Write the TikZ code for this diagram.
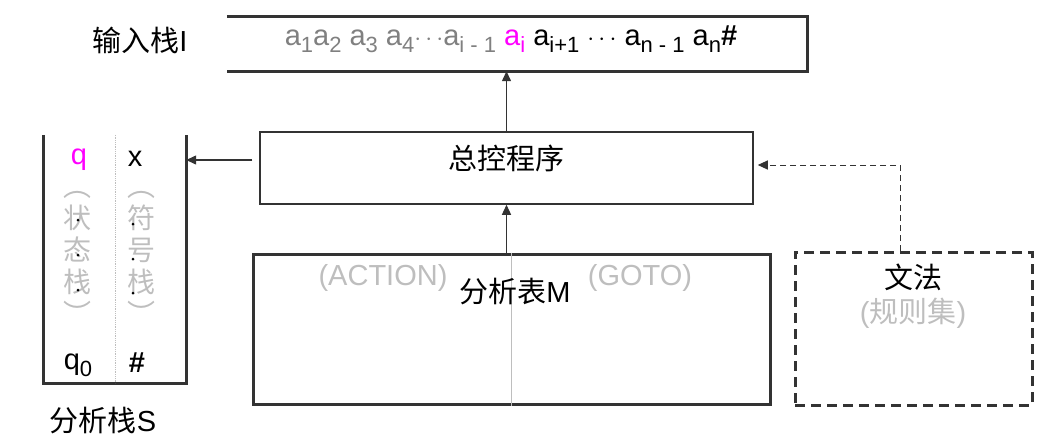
\documentclass[tikz,border=0pt]{standalone}
\usepackage{fontspec}
\setmainfont{Liberation Sans}
\newfontfamily\cjk{Noto Sans CJK SC}
\usetikzlibrary{arrows.meta, positioning, calc}
\definecolor{edge}{RGB}{51,51,51}
\definecolor{pale}{RGB}{190,190,190}
\definecolor{past}{RGB}{128,128,128}
\definecolor{hot}{RGB}{255,0,255}
\newcommand{\sbs}[1]{\raisebox{-7pt}{\fontsize{22}{22}\selectfont #1}}

\begin{document}
\begin{tikzpicture}[x=1pt, y=-1pt,
  lbl/.style={inner sep=0pt, font=\fontsize{29}{31}\selectfont},
  note/.style={lbl, text=pale},
  vnote/.style={note, align=center, font=\cjk\fontsize{28}{32}\selectfont},
  heavy/.style={draw=edge, line width=3pt},
  flow/.style={draw=edge, line width=1.3pt, -{Triangle[length=10pt,width=9pt]}}]
  \useasboundingbox (0,0) rectangle (1057,437);

  \node (tape) [minimum width=580pt, minimum height=54pt, inner sep=0pt] at (517,44) {};
  \draw[heavy] (tape.north west) -- (tape.north east) -- (tape.south east) -- (tape.south west);
  \node[lbl, anchor=base] (input) at (511,45) {\color{past}a\sbs{1}a\sbs{2} a\sbs{3} a\sbs{4}$\cdots$a\sbs{i - 1} \color{hot}a\sbs{i} \color{black}a\sbs{i+1} $\cdots$ a\sbs{n - 1} a\sbs{n}\textbf{\#}};
  \node[lbl, anchor=base] (inlbl) at (140,51) {{\cjk 输入栈}I};

  \node (ctrl) [draw=edge, line width=1.5pt, minimum width=493pt, minimum height=72pt] at (506.5,168) {};
  \node[lbl] (ctrltxt) at (506,158) {\cjk 总控程序};

  \node (stack) [minimum width=142pt, minimum height=248pt, inner sep=0pt] at (115,259) {};
  \draw[heavy] (stack.north west) -- (stack.south west) -- (stack.south east) -- (stack.north east);
  \draw[pale, densely dotted, line width=0.8pt] (stack.north) -- (stack.south);
  \node[lbl, text=hot, anchor=base] (qtop) at (79,164) {q};
  \node[lbl, anchor=base] (xtop) at (135,166) {x};
  \node[lbl, anchor=base] (qbot) at (78,369) {q\sbs{0}};
  \node[lbl, anchor=base] (hbot) at (137,372) {\textbf{\#}};
  \node[vnote] (sstate) at (77,258) {︵\\状\\态\\栈\\︶};
  \node[vnote] (ssym) at (141,258) {︵\\符\\号\\栈\\︶};
  \foreach \y in {220,255,290} \fill (78,\y) circle (1.5pt);
  \foreach \y in {224,259,293} \fill (133,\y) circle (1.5pt);
  \node[lbl, anchor=base] (stklbl) at (103,431) {{\cjk 分析栈}S};

  \node (table) [heavy, minimum width=517pt, minimum height=150pt] at (511.5,329) {};
  \draw[pale, line width=0.6pt] (table.north) -- (table.south);
  \node[note] (action) at (383,278) {(ACTION)};
  \node[note] (goto) at (640,278) {(GOTO)};
  \node[lbl] (tbl) at (515,292) {{\cjk 分析表}M};

  \node (gram) [draw=edge, line width=3pt, dash pattern=on 10pt off 6pt, minimum width=237pt, minimum height=153pt] at (913.5,328.5) {};
  \node[lbl] (gramtxt) at (913,277) {\cjk 文法};
  \node[note] (rules) at (913,313) {({\cjk 规则集})};

  \coordinate (ctrlw) at ([yshift=8pt]ctrl.west);
  \coordinate (ctrle) at ([yshift=3pt]ctrl.east);
  \coordinate (gtop) at ([xshift=-13pt]gram.north);
  \draw[flow] (ctrl.north) -- (ctrl.north |- tape.south);
  \draw[flow] (ctrl.south |- table.north) -- (ctrl.south);
  \draw[flow, shorten <=7pt] (ctrlw) -- (stack.east |- ctrlw);
  \draw[flow, line width=1pt, dash pattern=on 6pt off 4pt, shorten >=4pt] (gtop) |- (ctrle);
\end{tikzpicture}
\end{document}
